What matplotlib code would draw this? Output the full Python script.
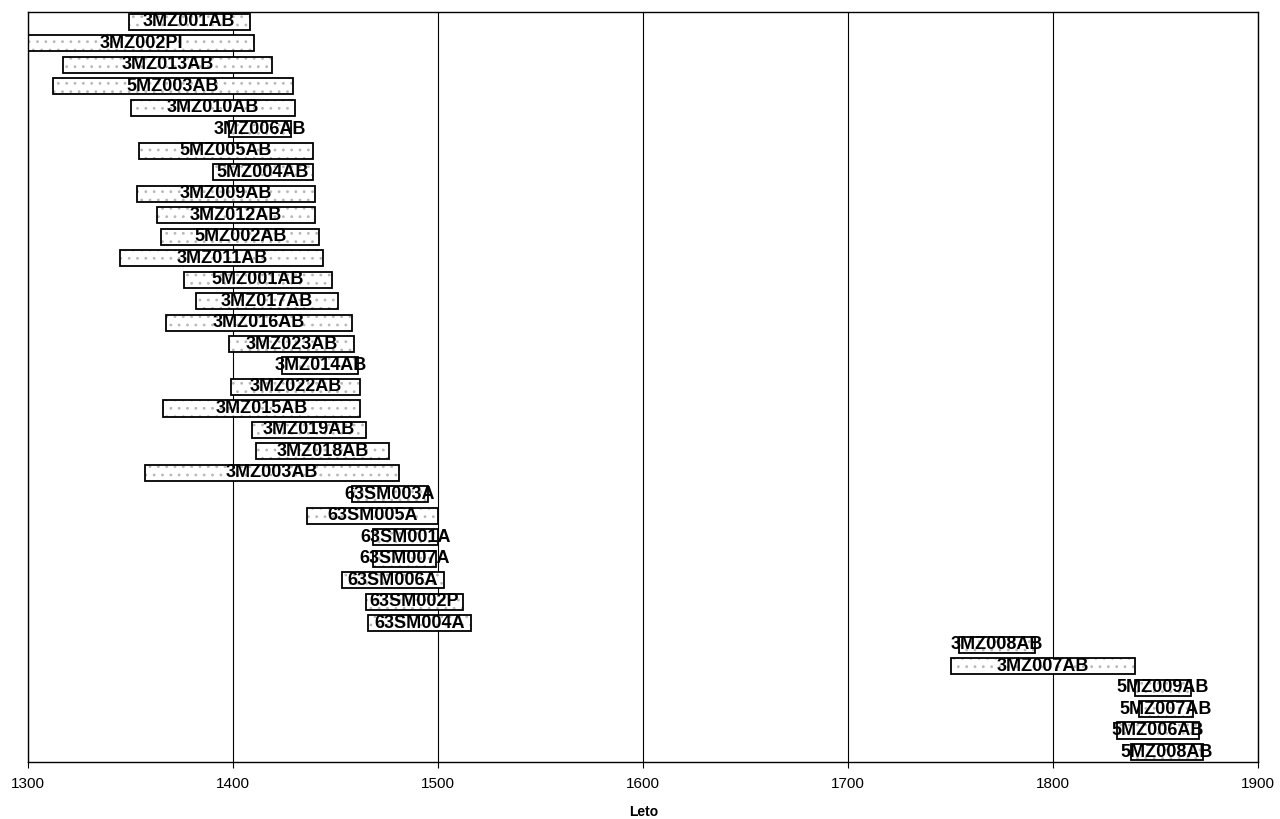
import matplotlib.pyplot as plt

plt.rcParams['font.family'] = ['Liberation Sans', 'DejaVu Sans']
plt.rcParams['hatch.linewidth'] = 0.8

names = ["3MZ001AB", "3MZ002PI", "3MZ013AB", "5MZ003AB", "3MZ010AB", "3MZ006AB",
         "5MZ005AB", "5MZ004AB", "3MZ009AB", "3MZ012AB", "5MZ002AB", "3MZ011AB",
         "5MZ001AB", "3MZ017AB", "3MZ016AB", "3MZ023AB", "3MZ014AB", "3MZ022AB",
         "3MZ015AB", "3MZ019AB", "3MZ018AB", "3MZ003AB", "63SM003A", "63SM005A",
         "63SM001A", "63SM007A", "63SM006A", "63SM002P", "63SM004A", "3MZ008AB",
         "3MZ007AB", "5MZ009AB", "5MZ007AB", "5MZ006AB", "5MZ008AB"]
start = [1349, 1300, 1317, 1312, 1350, 1398,
         1354, 1390, 1353, 1363, 1365, 1345,
         1376, 1382, 1367, 1398, 1424, 1399,
         1366, 1409, 1411, 1357, 1458, 1436,
         1468, 1468, 1453, 1465, 1466, 1754,
         1750, 1840, 1842, 1831, 1838]
end = [1408, 1410, 1419, 1429, 1430, 1428,
       1439, 1439, 1440, 1440, 1442, 1444,
       1448, 1451, 1458, 1459, 1461, 1462,
       1462, 1465, 1476, 1481, 1495, 1500,
       1500, 1499, 1503, 1512, 1516, 1791,
       1840, 1867, 1868, 1871, 1873]

fig, ax = plt.subplots(figsize=(12.8, 8.19), dpi=100)
fig.subplots_adjust(left=0.022, right=0.983, top=0.985, bottom=0.07)

ypos = list(range(len(names)))
widths = [e - s for s, e in zip(start, end)]

# dotted fill, then black outline on top
ax.barh(ypos, widths, left=start, height=0.75, color='white', edgecolor='#b8b8b8',
        hatch='..', linewidth=0, zorder=2)
ax.barh(ypos, widths, left=start, height=0.75, fill=False, edgecolor='black',
        linewidth=1.3, zorder=3)

for y, s, e, n in zip(ypos, start, end, names):
    ax.text((s + e) / 2, y, n, ha='center', va='center', fontsize=13,
            fontweight='bold', color='black', zorder=4)

ax.set_xlim(1300, 1900)
ax.set_ylim(len(names) - 0.55, -0.45)
ax.set_xticks(range(1300, 1901, 100))
ax.set_yticks([])
ax.tick_params(axis='x', direction='out', length=4, labelsize=11, pad=7)
ax.xaxis.grid(True, color='black', linewidth=0.8)
ax.set_axisbelow(True)
ax.set_xlabel("Leto", fontsize=10, fontweight='bold', labelpad=10)
for sp in ax.spines.values():
    sp.set_linewidth(1.0)

plt.savefig("out.png", dpi=100)
